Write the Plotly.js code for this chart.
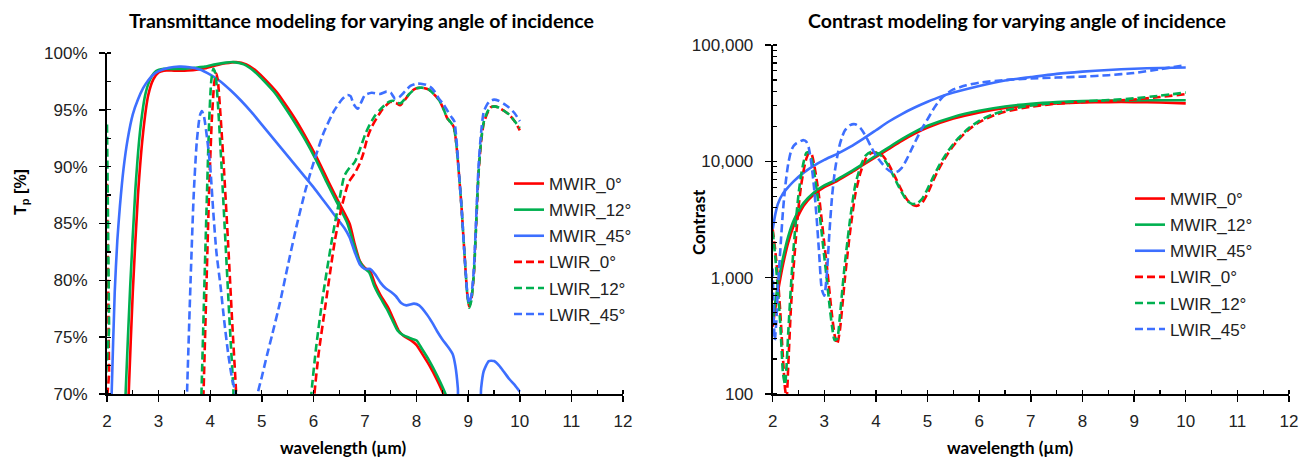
<!DOCTYPE html>
<html>
<head>
<meta charset="utf-8">
<script src="https://cdn.plot.ly/plotly-3.0.1.min.js"></script>
<style>
  html, body { margin: 0; padding: 0; background: #ffffff; }
  #chart { width: 1307px; height: 459px; }
</style>
</head>
<body>
<div id="chart"></div>
<script>
// ---------------- Transmittance (left) ----------------
const seriesNames = ['MWIR_0°', 'MWIR_12°', 'MWIR_45°', 'LWIR_0°', 'LWIR_12°', 'LWIR_45°'];

const tx_m0 = [2.38,2.42,2.5,2.6,2.7,2.8,2.9,3.0,3.1,3.3,3.5,3.7,3.9,4.1,4.3,4.5,4.7,4.9,5.1,5.3,5.5,5.7,5.9,6.1,6.3,6.5,6.7,6.8,6.9,7.0,7.1,7.2,7.3,7.45,7.55,7.65,7.75,7.9,8.0,8.1,8.25,8.4,8.52,8.6];
const t_m0  = [65,70,79,87.5,93,96.3,97.7,98.3,98.45,98.45,98.45,98.5,98.65,98.9,99.1,99.2,99.0,98.4,97.5,96.5,95.2,93.8,92.2,90.5,88.6,86.8,85.0,83.2,81.7,81.1,80.8,79.6,78.7,77.6,76.6,75.6,75.1,74.7,74.3,73.6,72.5,71.2,70.0,68.8];

const tx_m12 = [2.32,2.36,2.45,2.55,2.65,2.75,2.85,2.95,3.1,3.3,3.5,3.7,3.9,4.1,4.3,4.45,4.65,4.85,5.05,5.25,5.45,5.65,5.85,6.05,6.25,6.45,6.65,6.78,6.88,6.98,7.08,7.18,7.28,7.42,7.53,7.63,7.73,7.88,8.0,8.1,8.25,8.4,8.56,8.64];
const t_m12  = [65,70,79.5,88,93.5,96.5,97.8,98.4,98.6,98.6,98.6,98.7,98.8,99.0,99.15,99.2,99.0,98.4,97.5,96.5,95.2,93.8,92.3,90.6,88.7,86.9,85.1,83.2,81.8,81.1,80.7,79.5,78.6,77.5,76.5,75.6,75.2,74.9,74.7,74.0,72.9,71.6,70.0,68.8];

const tx_m45 = [2.06,2.09,2.15,2.2,2.25,2.32,2.4,2.5,2.6,2.7,2.8,2.9,3.0,3.2,3.4,3.6,3.8,4.0,4.2,4.4,4.6,4.8,5.0,5.2,5.4,5.6,5.8,6.0,6.2,6.4,6.6,6.7,6.8,6.9,7.0,7.1,7.2,7.3,7.4,7.5,7.6,7.7,7.8,7.95,8.05,8.2,8.3,8.4,8.5,8.6,8.7,8.75,8.8,8.83,9.2,9.25,9.3,9.4,9.5,9.6,9.7,9.8,9.9,10.0];
const t_m45  = [65,70,79,83.5,86.5,89.8,92.4,94.6,95.9,96.9,97.6,98.1,98.4,98.7,98.8,98.75,98.55,98.1,97.5,96.7,95.8,94.8,93.7,92.6,91.5,90.4,89.3,88.2,87.0,85.8,84.6,83.8,82.5,81.4,81.0,81.0,80.5,79.8,79.3,79.0,78.6,78.0,77.8,77.95,77.8,77.0,76.3,75.5,74.8,74.2,73.5,72.5,70.5,68,67,70.5,72.0,72.9,72.9,72.5,71.9,71.3,70.8,70.2];

const tx_l0 = [2.0,2.02,2.04,2.05,3.84,3.87,3.93,3.98,4.03,4.08,4.12,4.15,4.2,4.27,4.35,4.43,4.5,4.53,5.98,6.02,6.1,6.23,6.42,6.55,6.68,6.8,6.9,6.97,7.05,7.13,7.23,7.33,7.49,7.6,7.68,7.76,7.84,7.92,8.0,8.1,8.23,8.33,8.43,8.52,8.59,8.66,8.72,8.77,8.82,8.87,8.91,8.95,8.98,9.02,9.06,9.11,9.15,9.2,9.25,9.3,9.37,9.43,9.5,9.59,9.7,9.79,9.9,10.0];
const t_l0  = [88.5,80,72,68,66,70,80,88,94,97.4,98.2,97.5,94.5,89.5,83,76,70.3,67,67,70,73.5,77.7,83.6,86.5,88.6,89.4,90.3,91.2,92.6,93.5,94.3,95.0,95.7,95.6,95.4,95.8,96.3,96.7,96.9,96.95,96.8,96.4,95.9,95.1,94.3,93.9,93.5,92.0,89.4,86.5,83.6,80.8,78.9,77.7,78.3,80.6,84.5,89.4,92.2,93.8,94.7,95.2,95.3,95.2,94.9,94.6,94.0,93.2];

const tx_l12 = [2.0,2.02,2.04,2.055,3.8,3.83,3.89,3.94,3.98,4.02,4.06,4.1,4.15,4.22,4.3,4.38,4.45,4.48,5.92,5.96,6.05,6.18,6.36,6.5,6.6,6.7,6.8,6.9,7.0,7.07,7.18,7.29,7.38,7.46,7.55,7.62,7.7,7.78,7.86,7.93,8.0,8.1,8.23,8.33,8.43,8.52,8.59,8.66,8.72,8.77,8.82,8.87,8.91,8.95,8.98,9.02,9.06,9.11,9.15,9.2,9.25,9.3,9.37,9.43,9.5,9.59,9.7,9.79,9.9,10.0];
const t_l12  = [93.7,85,76,68,66,70,80,88,94,97.5,98.6,98.2,95.5,90,83,76,70.3,67,67,70,74,78.5,83.6,87,89.2,89.9,90.4,91.5,92.8,93.5,94.4,95.0,95.4,95.7,95.8,95.6,95.6,96.0,96.4,96.7,96.9,96.95,96.8,96.4,95.9,95.1,94.3,93.9,93.5,92.0,89.4,86.5,83.6,80.8,78.9,77.6,78.2,80.6,84.5,89.4,92.3,93.9,94.8,95.2,95.3,95.2,94.9,94.6,94.0,93.4];

const tx_l45 = [3.52,3.55,3.62,3.68,3.74,3.8,3.84,3.88,3.94,4.0,4.06,4.12,4.2,4.27,4.35,4.43,4.5,4.55,4.88,4.92,5.0,5.1,5.2,5.35,5.5,5.67,5.85,6.0,6.2,6.4,6.55,6.66,6.72,6.78,6.86,6.93,7.0,7.13,7.29,7.42,7.5,7.58,7.66,7.75,7.88,8.0,8.08,8.18,8.27,8.35,8.43,8.52,8.6,8.67,8.73,8.77,8.82,8.87,8.91,8.95,8.98,9.02,9.06,9.11,9.15,9.2,9.25,9.3,9.37,9.43,9.5,9.59,9.7,9.79,9.9,10.0];
const t_l45  = [66,70,80,87.5,92.2,94.5,94.9,94.4,92.5,90,86,82.5,79.5,76.5,73.5,71.2,70,68,67,70,71.5,73.4,75.2,78.0,81.2,84.7,88.0,90.3,93.0,94.9,95.9,96.3,96.2,95.5,95.1,95.7,96.3,96.5,96.4,96.6,96.5,96.0,96.1,96.5,97.1,97.3,97.3,97.2,97.0,96.6,96.0,95.5,94.9,94.4,94.0,92.5,89.5,86.5,83.6,80.8,79.0,78.0,78.6,81,85,90.0,93.0,94.8,95.5,95.8,95.9,95.8,95.5,95.2,94.7,94.0];

// ---------------- Contrast (right) ----------------
const cx_m = [2.0,2.05,2.1,2.15,2.2,2.3,2.4,2.5,2.6,2.8,3.0,3.25,3.5,3.75,4.0,4.25,4.5,4.75,5.0,5.5,6.0,6.5,7.0,7.5,8.0,8.5,9.0,9.5,10.0];
const c_m0  = [380,540,750,1000,1300,2000,2750,3450,4150,5200,6000,6800,7900,9300,10900,12800,15000,17300,19500,23300,26300,28700,30400,31400,32000,32300,32300,32000,31500];
const c_m12 = [430,620,860,1150,1480,2250,3050,3750,4400,5400,6200,7000,8100,9500,11200,13200,15500,17900,20200,24100,27200,29600,31300,32400,33000,33300,33400,33500,33500];

const cx_m45 = [2.0,2.05,2.1,2.2,2.3,2.4,2.6,2.8,3.0,3.25,3.5,3.75,4.0,4.25,4.5,4.75,5.0,5.25,5.5,6.0,6.5,7.0,7.5,8.0,8.5,9.0,9.5,10.0];
const c_m45  = [2600,3500,4300,5300,6000,6700,8000,9200,10300,11600,13300,15600,18500,22000,25500,29000,32500,36000,39000,44500,49500,53000,56500,59000,61000,62500,63500,64000];

const cx_l = [2.0,2.05,2.1,2.15,2.2,2.24,2.27,2.3,2.35,2.4,2.45,2.5,2.55,2.6,2.65,2.7,2.75,2.8,2.85,2.9,2.95,3.0,3.05,3.1,3.15,3.2,3.25,3.3,3.35,3.4,3.45,3.5,3.6,3.7,3.8,3.9,4.0,4.1,4.2,4.3,4.4,4.5,4.6,4.7,4.8,4.9,5.0,5.1,5.2,5.3,5.4,5.5,5.6,5.8,6.0,6.25,6.5,7.0,7.5,8.0,8.5,9.0,9.5,10.0];
const c_l0  = [2600,1700,1000,480,200,110,92,170,520,1150,2200,4000,6200,8400,10500,11700,11600,9500,7000,4900,3100,1950,1250,760,470,320,270,350,580,1000,1600,2500,5200,8000,10500,11700,11900,11500,10200,8500,6900,5600,4700,4250,4150,4450,5300,6700,8300,10000,11800,13600,15400,18800,21700,24500,26700,29500,31300,32300,33000,34000,35700,37800];
const c_l12 = [2500,1500,800,380,150,120,180,330,800,1700,3100,5200,7600,9900,11800,12000,10600,8200,5800,3800,2400,1500,950,580,380,290,300,460,800,1350,2100,3200,6300,9000,11200,12000,11900,11200,9800,8100,6600,5400,4600,4300,4350,4800,5800,7200,8800,10500,12300,14100,15900,19300,22300,25200,27400,30200,31900,32800,33600,34800,36700,39000];

const cx_l45 = [2.0,2.02,2.04,2.07,2.1,2.15,2.2,2.25,2.3,2.35,2.4,2.45,2.5,2.55,2.6,2.65,2.7,2.75,2.8,2.85,2.9,2.95,3.0,3.05,3.1,3.15,3.2,3.25,3.3,3.35,3.4,3.5,3.6,3.7,3.8,3.9,4.0,4.1,4.2,4.3,4.4,4.5,4.6,4.7,4.8,4.9,5.0,5.1,5.2,5.3,5.4,5.5,5.75,6.0,6.5,7.0,7.5,8.0,8.5,9.0,9.5,10.0];
const c_l45  = [1200,450,290,420,800,1800,3800,6500,9500,12000,13500,14200,14600,15000,15200,14800,13000,9500,6000,3300,1600,800,700,1100,2500,5000,8000,11000,14000,16500,18500,20500,20800,19300,16500,13500,11200,9800,8700,8100,8100,8800,10500,13000,16000,19500,23000,27500,32000,36000,39000,41500,45000,47500,50000,51500,52500,53500,55000,57500,62000,67000];

const xTickVals = [2,3,4,5,6,7,8,9,10,11,12];

// ---------------- styling ----------------
const RED = '#FF0000', GREEN = '#00B050', BLUE = '#3D6FFF';
const DASH = '8px,4px';
const LW = 2.6;
const colors = [RED, GREEN, BLUE, RED, GREEN, BLUE];
const dashes = ['solid','solid','solid',DASH,DASH,DASH];

const leftX = [tx_m0, tx_m12, tx_m45, tx_l0, tx_l12, tx_l45];
const leftY = [t_m0, t_m12, t_m45, t_l0, t_l12, t_l45];
const rightX = [cx_m, cx_m, cx_m45, cx_l, cx_l, cx_l45];
const rightY = [c_m0, c_m12, c_m45, c_l0, c_l12, c_l45];

const traces = [];
for (let i = 0; i < 6; i++) {
  traces.push({
    type: 'scatter', mode: 'lines', name: seriesNames[i],
    x: leftX[i], y: leftY[i].map(v => v / 100),
    xaxis: 'x', yaxis: 'y', legend: 'legend', legendgroup: 'L' + i,
    line: { color: colors[i], width: LW, dash: dashes[i], shape: 'spline', smoothing: 0.6 },
    hoverinfo: 'skip'
  });
}
for (let i = 0; i < 6; i++) {
  traces.push({
    type: 'scatter', mode: 'lines', name: seriesNames[i],
    x: rightX[i], y: rightY[i],
    xaxis: 'x2', yaxis: 'y2', legend: 'legend2', legendgroup: 'R' + i,
    line: { color: colors[i], width: LW, dash: dashes[i], shape: 'spline', smoothing: 0.6 },
    hoverinfo: 'skip'
  });
}

const W = 1307, H = 459;
const tickFont = { family: 'Liberation Sans, Arial, sans-serif', size: 17, color: '#222' };
const legendFont = { family: 'Liberation Sans, Arial, sans-serif', size: 17, color: '#222' };
const titleFont = { family: 'Lato, Calibri, sans-serif', size: 19.5, color: '#000' };
const axTitleFont = { family: 'Lato, Calibri, sans-serif', size: 17, color: '#000' };

const xBase = {
  range: [2, 12], tickvals: xTickVals, ticks: 'outside', ticklen: 6, tickwidth: 1.5, tickcolor: '#000',
  showline: true, linecolor: '#000', linewidth: 2, showgrid: false, zeroline: false,
  tickfont: tickFont, ticklabelstandoff: 5,
  minor: { ticks: 'inside', ticklen: 4, tickwidth: 1.2, tickcolor: '#000', dtick: 0.5, showgrid: false },
  fixedrange: true
};

const layout = {
  width: W, height: H,
  margin: { l: 0, r: 0, t: 0, b: 0 },
  paper_bgcolor: '#fff', plot_bgcolor: '#fff',
  showlegend: true,
  xaxis: Object.assign({}, xBase, { domain: [107 / W, 623 / W], anchor: 'y' }),
  yaxis: {
    domain: [1 - 394 / H, 1 - 53 / H], anchor: 'x',
    range: [0.70, 1.00], dtick: 0.05, tick0: 0.70, tickformat: '.0%',
    ticks: 'outside', ticklen: 6, tickwidth: 1.5, tickcolor: '#000',
    showline: true, linecolor: '#000', linewidth: 2, showgrid: false, zeroline: false,
    tickfont: tickFont, ticklabelstandoff: 8,
    minor: { ticks: 'inside', ticklen: 4, tickwidth: 1.2, tickcolor: '#000', dtick: 0.025, showgrid: false },
    fixedrange: true
  },
  xaxis2: Object.assign({}, xBase, { domain: [772.7 / W, 1289 / W], anchor: 'y2' }),
  yaxis2: {
    domain: [1 - 394 / H, 1 - 45 / H], anchor: 'x2',
    type: 'log', range: [2, 5], dtick: 1, tickformat: ',d',
    ticks: 'outside', ticklen: 6, tickwidth: 1.5, tickcolor: '#000',
    showline: true, linecolor: '#000', linewidth: 2, showgrid: false, zeroline: false,
    tickfont: tickFont, ticklabelstandoff: 8,
    minor: { ticks: 'inside', ticklen: 4, tickwidth: 1.2, tickcolor: '#000', dtick: 'D1', showgrid: false },
    fixedrange: true
  },
  legend: {
    x: 509 / W, y: 1 - 166 / H, xanchor: 'left', yanchor: 'top',
    font: legendFont, bgcolor: 'rgba(0,0,0,0)', borderwidth: 0,
    itemwidth: 30, tracegroupgap: 1, traceorder: 'grouped', itemclick: false
  },
  legend2: {
    x: 1130 / W, y: 1 - 181 / H, xanchor: 'left', yanchor: 'top',
    font: legendFont, bgcolor: 'rgba(0,0,0,0)', borderwidth: 0,
    itemwidth: 30, tracegroupgap: 1, traceorder: 'grouped', itemclick: false
  },
  annotations: [
    { text: '<b>Transmittance modeling for varying angle of incidence</b>', x: 361 / W, y: 1 - 20 / H,
      xref: 'paper', yref: 'paper', xanchor: 'center', yanchor: 'middle', showarrow: false, font: titleFont },
    { text: '<b>Contrast modeling for varying angle of incidence</b>', x: 1017 / W, y: 1 - 20 / H,
      xref: 'paper', yref: 'paper', xanchor: 'center', yanchor: 'middle', showarrow: false, font: titleFont },
    { text: '<b>wavelength (µm)</b>', x: 343 / W, y: 1 - 447 / H,
      xref: 'paper', yref: 'paper', xanchor: 'center', yanchor: 'middle', showarrow: false, font: axTitleFont },
    { text: '<b>wavelength (µm)</b>', x: 1010 / W, y: 1 - 447 / H,
      xref: 'paper', yref: 'paper', xanchor: 'center', yanchor: 'middle', showarrow: false, font: axTitleFont },
    { text: '<b>T<sub>p</sub> [%]</b>', x: 21 / W, y: 1 - 192 / H, textangle: -90,
      xref: 'paper', yref: 'paper', xanchor: 'center', yanchor: 'middle', showarrow: false,
      font: { family: 'Liberation Sans, Arial, sans-serif', size: 16, color: '#000' } },
    { text: '<b>Contrast</b>', x: 698 / W, y: 1 - 222 / H, textangle: -90,
      xref: 'paper', yref: 'paper', xanchor: 'center', yanchor: 'middle', showarrow: false, font: axTitleFont }
  ]
};

Plotly.newPlot('chart', traces, layout, { staticPlot: true, displayModeBar: false });
</script>
</body>
</html>
